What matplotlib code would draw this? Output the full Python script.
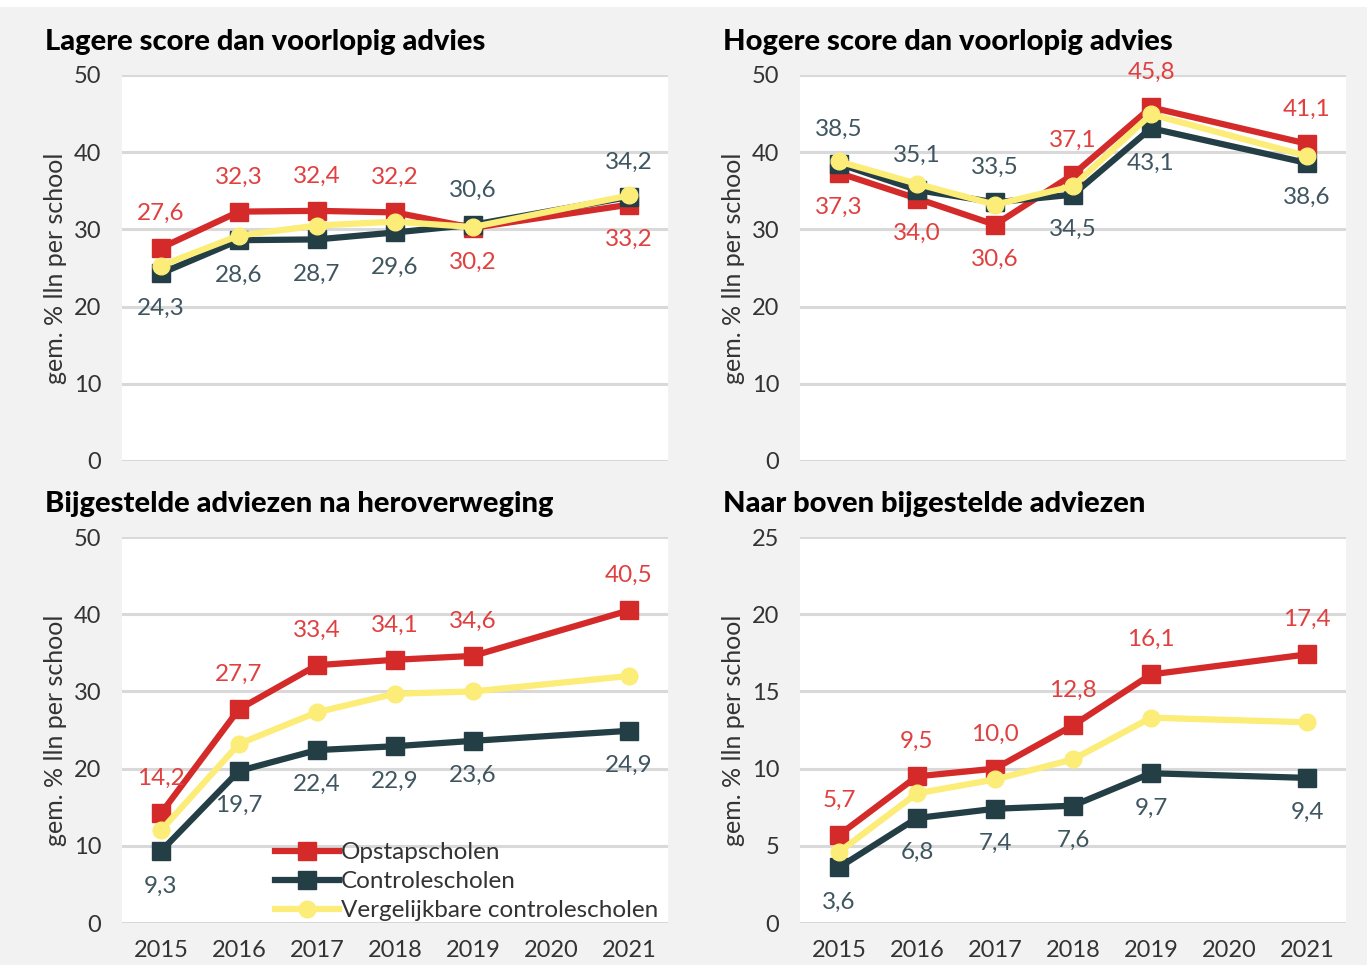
import matplotlib.pyplot as plt
import numpy as np
from matplotlib.patches import Rectangle

# jaren op de x-as (2020 heeft geen meting)
jaren = ["2015", "2016", "2017", "2018", "2019", "2020", "2021"]
meetjaren = [0, 1, 2, 3, 4, 6]

titels = ["Lagere score dan voorlopig advies",
          "Hogere score dan voorlopig advies",
          "Bijgestelde adviezen na heroverweging",
          "Naar boven bijgestelde adviezen"]

# lagere score
lager_opstap = [27.6, 32.3, 32.4, 32.2, 30.2, 33.2]
lager_controle = [24.3, 28.6, 28.7, 29.6, 30.6, 34.2]
lager_vergelijk = [25.3, 29.2, 30.5, 31.0, 30.3, 34.4]

# hogere score
hoger_opstap = [37.3, 34.0, 30.6, 37.1, 45.8, 41.1]
hoger_controle = [38.5, 35.1, 33.5, 34.5, 43.1, 38.6]
hoger_vergelijk = [38.8, 35.9, 33.2, 35.6, 44.9, 39.5]

# bijgesteld
bijg_opstap = [14.2, 27.7, 33.4, 34.1, 34.6, 40.5]
bijg_controle = [9.3, 19.7, 22.4, 22.9, 23.6, 24.9]
bijg_vergelijk = [12.0, 23.2, 27.3, 29.7, 30.0, 32.0]

# naar boven bijgesteld
boven_opstap = [5.7, 9.5, 10.0, 12.8, 16.1, 17.4]
boven_controle = [3.6, 6.8, 7.4, 7.6, 9.7, 9.4]
boven_vergelijk = [4.6, 8.4, 9.3, 10.6, 13.3, 13.0]

ymax = [50, 50, 50, 25]

ROOD = "#d42a2a"
DONKER = "#233f45"
GEEL = "#fcec78"
ROOD_TXT = "#e04040"
DONKER_TXT = "#3f5660"
BG = "#f2f2f2"
FONT = "Lato"

panelen = [(lager_opstap, lager_controle, lager_vergelijk),
           (hoger_opstap, hoger_controle, hoger_vergelijk),
           (bijg_opstap, bijg_controle, bijg_vergelijk),
           (boven_opstap, boven_controle, boven_vergelijk)]

fig = plt.figure(figsize=(13.67, 9.65), dpi=100, facecolor=BG)
fig.patches.append(Rectangle((0, 1 - 7 / 965), 1, 7 / 965, transform=fig.transFigure,
                             facecolor="white", edgecolor="none", zorder=0))

posities = [[0.0892, 0.5223, 0.3995, 0.4000],
            [0.5852, 0.5223, 0.3995, 0.4000],
            [0.0892, 0.0435, 0.3995, 0.4000],
            [0.5852, 0.0435, 0.3995, 0.4000]]

for i, (opstap, controle, vergelijk) in enumerate(panelen):
    ax = fig.add_axes(posities[i])
    ax.set_facecolor("white")
    ym = ymax[i]
    ax.set_ylim(0, ym)
    ax.set_xlim(-0.5, 6.5)
    ax.set_yticks(np.linspace(0, ym, 6))
    ax.set_yticklabels([str(int(v)) for v in np.linspace(0, ym, 6)])
    ax.set_xticks(range(len(jaren)))
    ax.set_xticklabels(jaren)
    for s in ax.spines.values():
        s.set_visible(False)
    ax.grid(axis="y", color="#d9d9d9", linewidth=2.2, zorder=0)
    ax.set_axisbelow(True)
    ax.tick_params(axis="both", length=0, labelsize=17, colors="#333333", pad=15)
    ax.tick_params(axis="x", pad=12)
    if i < 2:
        ax.tick_params(axis="x", labelbottom=False)
    for lab in ax.get_xticklabels() + ax.get_yticklabels():
        lab.set_fontfamily(FONT)
    ax.set_ylabel("gem. % lln per school", fontsize=18, color="#333333", family=FONT, labelpad=5)

    ax.plot(meetjaren, opstap, color=ROOD, lw=4.5, marker="s", ms=13, zorder=3,
            label="Opstapscholen")
    ax.plot(meetjaren, controle, color=DONKER, lw=4.5, marker="s", ms=13, zorder=4,
            label="Controlescholen")
    ax.plot(meetjaren, vergelijk, color=GEEL, lw=4.5, marker="o", ms=12, zorder=5,
            label="Vergelijkbare controlescholen")

    # labels: hoogste boven, laagste onder
    for x, r, c in zip(meetjaren, opstap, controle):
        off = 25
        if r >= c:
            ry, cy = off, -off
        else:
            ry, cy = -off, off
        ax.annotate(f"{r:.1f}".replace(".", ","), (x, r), xytext=(0, ry), textcoords="offset points",
                    ha="center", va="center", fontsize=17.5, color=ROOD_TXT, family=FONT, annotation_clip=False)
        ax.annotate(f"{c:.1f}".replace(".", ","), (x, c), xytext=(0, cy), textcoords="offset points",
                    ha="center", va="center", fontsize=17.5, color=DONKER_TXT, family=FONT, annotation_clip=False)

    fig.text(posities[i][0] - 0.0565, posities[i][1] + posities[i][3] + 0.0345, titels[i],
             fontsize=21, fontweight="black", family=FONT, color="black", va="center")

    if i == 2:
        leg = ax.legend(loc="lower right", frameon=False, fontsize=17.5, handlelength=2.6,
                        handletextpad=0.1, labelspacing=0.32, borderaxespad=0.0,
                        bbox_to_anchor=(1.0, -0.02))
        for t in leg.get_texts():
            t.set_fontfamily(FONT)
            t.set_color("#333333")

fig.savefig("out.png", dpi=100, facecolor=BG)
